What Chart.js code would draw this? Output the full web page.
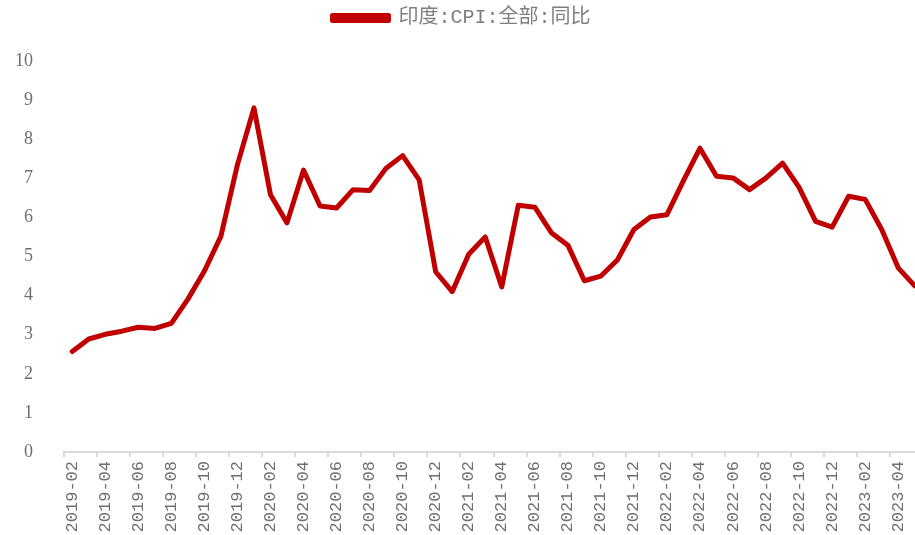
<!DOCTYPE html>
<html>
<head>
<meta charset="utf-8">
<script src="https://cdn.jsdelivr.net/npm/chart.js@4.4.1/dist/chart.umd.min.js"></script>
<style>
    html, body { margin: 0; padding: 0; background: #fff; overflow: hidden; }
    #wrap { width: 915px; height: 535px; overflow: hidden; }
</style>
</head>
<body>
<div id="wrap"><canvas id="cpiChart" width="923" height="535"></canvas></div>
<script>
// India CPI YoY, monthly 2019-02 .. 2023-05
const months = [
    '2019-02', '2019-03', '2019-04', '2019-05', '2019-06', '2019-07', '2019-08', '2019-09', '2019-10', '2019-11', '2019-12',
    '2020-01', '2020-02', '2020-03', '2020-04', '2020-05', '2020-06', '2020-07', '2020-08', '2020-09', '2020-10', '2020-11', '2020-12',
    '2021-01', '2021-02', '2021-03', '2021-04', '2021-05', '2021-06', '2021-07', '2021-08', '2021-09', '2021-10', '2021-11', '2021-12',
    '2022-01', '2022-02', '2022-03', '2022-04', '2022-05', '2022-06', '2022-07', '2022-08', '2022-09', '2022-10', '2022-11', '2022-12',
    '2023-01', '2023-02', '2023-03', '2023-04', '2023-05'
];
const cpiYoY = [
    2.57, 2.89, 3.01, 3.09, 3.19, 3.16, 3.29, 3.91, 4.63, 5.52, 7.35,
    8.80, 6.58, 5.86, 7.21, 6.29, 6.24, 6.71, 6.69, 7.26, 7.58, 6.96, 4.61,
    4.10, 5.06, 5.50, 4.22, 6.31, 6.26, 5.61, 5.29, 4.38, 4.50, 4.91, 5.69,
    6.01, 6.07, 6.94, 7.77, 7.05, 7.01, 6.71, 7.01, 7.39, 6.77, 5.90, 5.75,
    6.54, 6.46, 5.69, 4.71, 4.25
];
const seriesName = '印度:CPI:全部:同比';
const yTicks = [0, 10, 1]; // min, max, step

document.addEventListener('DOMContentLoaded', function () {
    const ctx = document.getElementById('cpiChart').getContext('2d');

    // leave room between legend and plot
    const legendGap = {
        id: 'legendGap',
        beforeInit(chart) {
            const fit = chart.legend.fit;
            chart.legend.fit = function () {
                fit.bind(chart.legend)();
                this.height += 23;
            };
        }
    };

    new Chart(ctx, {
        type: 'line',
        data: {
            labels: months,
            datasets: [{
                label: seriesName,
                data: cpiYoY,
                borderColor: '#C00000',
                backgroundColor: '#C00000',
                borderWidth: 5,
                borderJoinStyle: 'round',
                borderCapStyle: 'round',
                pointRadius: 0,
                tension: 0,
                fill: false
            }]
        },
        options: {
            responsive: false,
            animation: false,
            layout: { padding: 0 },
            scales: {
                x: {
                    offset: true,
                    afterFit: function (scale) {
                        scale.height = 83;
                        scale.paddingLeft = 0;
                        scale.paddingRight = 0;
                    },
                    border: { display: true, color: '#d9d9d9', width: 2 },
                    grid: {
                        offset: true,
                        drawOnChartArea: false,
                        drawTicks: true,
                        tickLength: 5,
                        lineWidth: 2,
                        color: function (c) { return c.index % 2 === 0 ? '#d9d9d9' : 'rgba(0,0,0,0)'; }
                    },
                    ticks: {
                        autoSkip: false,
                        maxRotation: 90,
                        minRotation: 90,
                        padding: 4,
                        color: '#6f6f6f',
                        font: { family: "'Liberation Mono', monospace", size: 17 },
                        callback: function (v, i) { return i % 2 === 0 ? this.getLabelForValue(v) : ''; }
                    }
                },
                y: {
                    min: yTicks[0],
                    max: yTicks[1],
                    afterFit: function (scale) { scale.width = 64; },
                    border: { display: false },
                    grid: { display: false, drawTicks: false },
                    ticks: {
                        stepSize: yTicks[2],
                        padding: 31,
                        color: '#6f6f6f',
                        font: { family: "'Liberation Serif', serif", size: 18 }
                    }
                }
            },
            plugins: {
                legend: {
                    display: true,
                    position: 'top',
                    labels: {
                        boxWidth: 56,
                        boxHeight: 5,
                        padding: 8,
                        color: '#7f7f7f',
                        font: { family: "'Liberation Mono', 'Noto Sans CJK SC', sans-serif", size: 20 }
                    }
                },
                tooltip: { enabled: false }
            }
        },
        plugins: [legendGap]
    });
});
</script>
</body>
</html>
